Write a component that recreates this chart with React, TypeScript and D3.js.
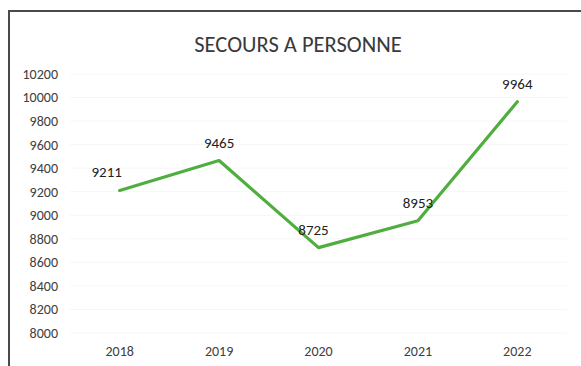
import * as d3 from 'd3';
import React from 'react';

const width = 581;
const height = 366;
const margin = { top: 74, right: 14, bottom: 33, left: 70 };

const years = ['2018', '2019', '2020', '2021', '2022'];
const interventions = [9211, 9465, 8725, 8953, 9964];
const yTicks = [8000, 8200, 8400, 8600, 8800, 9000, 9200, 9400, 9600, 9800, 10000, 10200];

export default function App() {
  const x = d3
    .scaleBand<string>()
    .domain(years)
    .range([margin.left, width - margin.right]);
  const y = d3
    .scaleLinear()
    .domain([8000, 10200])
    .range([height - margin.bottom, margin.top]);

  const pts = years.map((yr, i) => ({ yr, v: interventions[i] }));
  const line = d3
    .line<{ yr: string; v: number }>()
    .x(d => (x(d.yr) as number) + x.bandwidth() / 2)
    .y(d => y(d.v));

  const font = 'Carlito, "Open Sans", "Liberation Sans", sans-serif';

  return (
    <svg
      width={width}
      height={height}
      style={{ position: 'absolute', top: 0, left: 0, background: '#fff' }}
    >
      {/* chart frame, cut off at right/bottom like the scan */}
      <rect x={9} y={11} width={width + 10} height={height + 10} fill="#fff" stroke="#4a4a4a" strokeWidth={2} />

      <text x={298} y={52} textAnchor="middle" fontFamily={font} fontSize={22.5} fill="#3a3a3a">
        SECOURS A PERSONNE
      </text>

      {/* faint gridlines */}
      <g>
        {yTicks.map(t => (
          <line
            key={t}
            x1={margin.left}
            x2={width - margin.right}
            y1={y(t)}
            y2={y(t)}
            stroke="#f6f6f6"
            strokeWidth={1}
          />
        ))}
      </g>

      <g fontFamily={font} fontSize={14} fill="#404040">
        {yTicks.map(t => (
          <text key={t} x={58} y={y(t)} dy="0.35em" textAnchor="end">
            {t}
          </text>
        ))}
        {years.map(yr => (
          <text
            key={yr}
            x={(x(yr) as number) + x.bandwidth() / 2}
            y={height - 10}
            textAnchor="middle"
          >
            {yr}
          </text>
        ))}
      </g>

      <path
        d={line(pts) || ''}
        fill="none"
        stroke="#4fae3f"
        strokeWidth={3.2}
        strokeLinejoin="round"
        strokeLinecap="round"
      />

      <g fontFamily={font} fontSize={15} fill="#222">
        {pts.map(d => (
          <text
            key={d.yr}
            x={(x(d.yr) as number) + x.bandwidth() / 2 - (d.yr === '2018' ? 13 : d.yr === '2020' ? 5 : 0)}
            y={y(d.v) - 13}
            textAnchor="middle"
          >
            {d.v}
          </text>
        ))}
      </g>
    </svg>
  );
}
